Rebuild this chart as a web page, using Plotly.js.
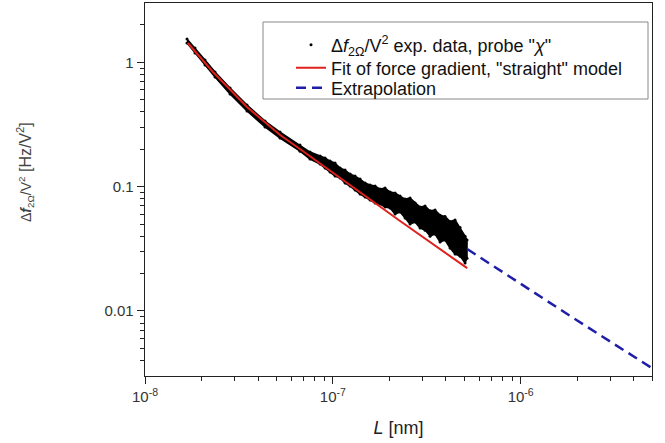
<!DOCTYPE html>
<html><head><meta charset="utf-8">
<script src="https://cdn.plot.ly/plotly-3.0.1.min.js"></script>
<style>html,body{margin:0;padding:0;background:#fff}#chart{width:665px;height:443px}</style>
</head><body><div id="chart"></div>
<script>
// Experimental data (noisy band): L positions with upper and lower envelope of the scatter
const dataL = [1.673e-8, 1.846e-8, 2.087e-8, 2.359e-8, 2.836e-8, 3.492e-8, 4.355e-8, 5.234e-8, 6.688e-8, 7.56e-8,
  8.548e-8, 9.088e-8, 9.663e-8, 1.0274e-7, 1.0923e-7, 1.1614e-7, 1.2348e-7, 1.3128e-7, 1.3958e-7, 1.4840e-7,
  1.5778e-7, 1.6775e-7, 1.7836e-7, 1.8963e-7, 2.0162e-7, 2.1436e-7, 2.2791e-7, 2.4232e-7, 2.5763e-7, 2.7392e-7,
  2.9123e-7, 3.0964e-7, 3.2921e-7, 3.5002e-7, 3.7214e-7, 3.9566e-7, 4.2067e-7, 4.4726e-7, 4.7553e-7, 5.0558e-7, 5.18e-7];
const dataHigh = [1.540, 1.303, 1.043, 0.836, 0.621, 0.453, 0.337, 0.275, 0.216, 0.190,
  0.1763, 0.1699, 0.1607, 0.1548, 0.1411, 0.1360, 0.1263, 0.1217, 0.1151, 0.1069,
  0.1030, 0.1011, 0.0956, 0.0974, 0.0905, 0.0888, 0.0840, 0.0795, 0.0810, 0.0738,
  0.0685, 0.0698, 0.0640, 0.0648, 0.0590, 0.0575, 0.0525, 0.0540, 0.0470, 0.0400, 0.0372];
const dataLow = [1.430, 1.188, 0.951, 0.762, 0.556, 0.406, 0.302, 0.246, 0.193, 0.1667,
  0.1520, 0.1411, 0.1311, 0.1217, 0.1173, 0.1069, 0.1011, 0.0939, 0.0872, 0.0825,
  0.0780, 0.0738, 0.0725, 0.0685, 0.0673, 0.0602, 0.0625, 0.0559, 0.0500, 0.0519,
  0.0464, 0.0447, 0.0400, 0.0416, 0.0358, 0.0372, 0.0321, 0.0287, 0.0276, 0.0243, 0.0266];

// Fit of force gradient, "straight" model
const fitL = [1.69e-8, 2.30e-8, 2.836e-8, 3.49e-8, 4.355e-8, 5.24e-8, 6.68e-8, 1.236e-7, 2.28e-7, 5.19e-7];
const fitY = [1.43, 0.836, 0.604, 0.437, 0.329, 0.260, 0.201, 0.103, 0.0529, 0.0221];

// Extrapolation
const extrapL = [5.19e-7, 1e-6, 2e-6, 5e-6];
const extrapY = [0.0315, 0.01655, 0.00838, 0.00347];

// Axis ticks
const xTickVals = [1e-8, 1e-7, 1e-6];
const xTickText = ['10<sup>-8</sup>', '10<sup>-7</sup>', '10<sup>-6</sup>'];
const xMinorVals = [2e-8,3e-8,4e-8,5e-8,6e-8,7e-8,8e-8,9e-8,2e-7,3e-7,4e-7,5e-7,6e-7,7e-7,8e-7,9e-7,2e-6,3e-6,4e-6,5e-6];
const yTickVals = [0.01, 0.1, 1];
const yTickText = ['0.01', '0.1', '1'];
const yMinorVals = [0.004,0.005,0.006,0.007,0.008,0.009,0.02,0.03,0.04,0.05,0.06,0.07,0.08,0.09,0.2,0.3,0.4,0.5,0.6,0.7,0.8,0.9,2];

const FONT = 'Arial, "Liberation Sans", sans-serif';

// pixel helpers for layout placement (plot area: x 145..652, y 3..376)
const px = v => (v - 145) / 507;
const py = v => (376 - v) / 373;

const traces = [
  {x: dataL.concat(dataL.slice().reverse()), y: dataHigh.concat(dataLow.slice().reverse()),
   mode: 'lines', fill: 'toself', fillcolor: '#000', line: {color: '#000', width: 1.5},
   showlegend: false, hoverinfo: 'skip'},
  {x: dataL.concat(dataL), y: dataHigh.concat(dataLow), mode: 'markers',
   marker: {color: '#000', size: 3}, legend: 'legend',
   name: 'Δ<i>f</i><sub>2Ω</sub>/V<sup>2</sup> exp. data, probe "<i>χ</i>"'},
  {x: fitL, y: fitY, mode: 'lines', line: {color: '#e0201c', width: 2}, legend: 'legend2',
   name: 'Fit of force gradient, "straight" model'},
  {x: extrapL, y: extrapY, mode: 'lines', line: {color: '#1e1ea8', width: 2.5, dash: '10px,6px'}, legend: 'legend3',
   name: 'Extrapolation'}
];

const axisCommon = {
  type: 'log', showgrid: false, zeroline: false,
  showline: true, linecolor: '#222', linewidth: 1.3, mirror: true,
  ticks: 'outside', ticklen: 7, tickwidth: 1, tickcolor: '#222',
  tickfont: {family: FONT, size: 15, color: '#333'}
};

const legendCommon = {
  xanchor: 'left', yanchor: 'middle', bgcolor: 'rgba(0,0,0,0)', borderwidth: 0,
  font: {family: FONT, size: 18, color: '#111'}, itemwidth: 30
};

const layout = {
  width: 665, height: 443,
  margin: {l: 145, r: 13, t: 3, b: 67},
  paper_bgcolor: '#fff', plot_bgcolor: '#fff',
  font: {family: FONT},
  xaxis: Object.assign({}, axisCommon, {
    range: [-8, Math.log10(5e-6)],
    tickmode: 'array', tickvals: xTickVals, ticktext: xTickText,
    minor: {tickmode: 'array', tickvals: xMinorVals, ticks: 'outside', ticklen: 4, tickcolor: '#222', showgrid: false},
    title: {text: '<i>L</i> [nm]', font: {family: FONT, size: 18, color: '#222'}, standoff: 17}
  }),
  yaxis: Object.assign({}, axisCommon, {
    range: [Math.log10(0.003), Math.log10(3)],
    tickmode: 'array', tickvals: yTickVals, ticktext: yTickText,
    minor: {tickmode: 'array', tickvals: yMinorVals, ticks: 'outside', ticklen: 4, tickcolor: '#222', showgrid: false}
  }),
  annotations: [{
    text: '<span style="font-size:14px">Δ<b><i>f</i></b><sub>2Ω</sub>/V<sup>2</sup></span> [Hz/V<sup>2</sup>]',
    textangle: -90, xref: 'paper', yref: 'paper',
    x: px(25), y: py(172), xanchor: 'center', yanchor: 'middle',
    showarrow: false, font: {family: FONT, size: 16, color: '#444'}
  }],
  shapes: [{
    type: 'rect', xref: 'paper', yref: 'paper', layer: 'below',
    x0: px(263), x1: px(648), y0: py(99), y1: py(22),
    fillcolor: '#fff', line: {color: '#888', width: 1}
  }],
  showlegend: true,
  legend: Object.assign({}, legendCommon, {x: px(291), y: py(45)}),
  legend2: Object.assign({}, legendCommon, {x: px(291), y: py(68)}),
  legend3: Object.assign({}, legendCommon, {x: px(291), y: py(88)})
};

Plotly.newPlot('chart', traces, layout, {staticPlot: true, displayModeBar: false});
</script>
</body></html>
